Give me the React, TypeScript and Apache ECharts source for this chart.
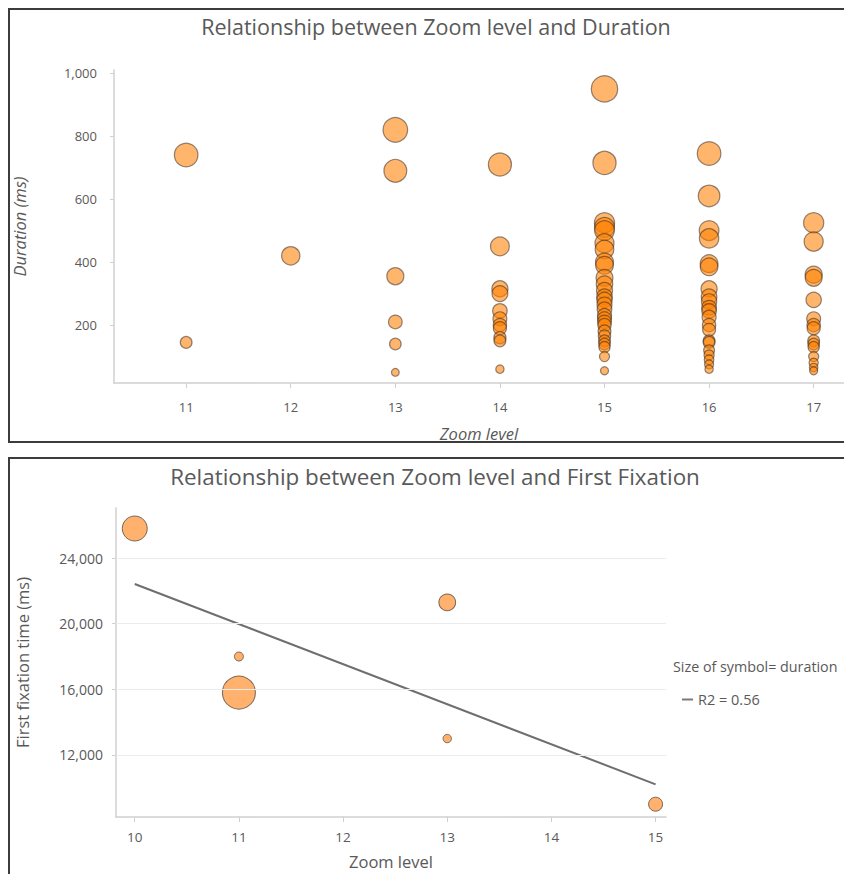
import React, { useEffect, useRef } from "react";
import * as echarts from "echarts";

// ---------- Top chart data ----------
const topTitle = "Relationship between Zoom level and Duration";
const topXName = "Zoom level";
const topYName = "Duration (ms)";
const topZoomTicks = [11, 12, 13, 14, 15, 16, 17];
const topDurationTicks = [200, 400, 600, 800, 1000];
const durZoom11 = [740, 145];
const durZoom12 = [420];
const durZoom13 = [820, 690, 355, 210, 140, 50];
const durZoom14 = [710, 450, 315, 300, 245, 220, 200, 190, 160, 150, 60];
const durZoom15 = [950, 715, 525, 510, 500, 460, 440, 400, 390, 350, 330, 310, 290, 280, 265, 250, 230, 220, 210, 200, 180, 165, 150, 140, 130, 100, 55];
const durZoom16 = [745, 610, 500, 475, 395, 385, 315, 290, 275, 255, 245, 225, 200, 185, 150, 145, 120, 105, 90, 75, 60];
const durZoom17 = [525, 465, 360, 350, 280, 220, 200, 190, 150, 140, 130, 100, 80, 65, 55];

// ---------- Bottom chart data ----------
const bottomTitle = "Relationship between Zoom level and First Fixation";
const bottomXName = "Zoom level";
const bottomYName = "First fixation time (ms)";
const ffZoom = [10, 11, 11, 13, 13, 15];
const ffTime = [25800, 18000, 15800, 21300, 13000, 9000];
const ffDuration = [625, 80, 1090, 280, 70, 196];
const ffTicksX = [10, 11, 12, 13, 14, 15];
const ffTicksY = [12000, 16000, 20000, 24000];
const trendZoom = [10, 15];
const trendTime = [22420, 10210];
const r2Label = "R2 = 0.56";
const sizeNote = "Size of symbol= duration";

const FONT = "'Open Sans', 'Noto Sans', sans-serif";
const TXT = "#595959";
const fmt = (v: number) => v.toLocaleString("en-US");

export default function App() {
  const ref = useRef<HTMLDivElement>(null);
  useEffect(() => {
    if (!ref.current) return;
    const chart = echarts.init(ref.current, null, { renderer: "svg" });

    const topCols: [number, number[]][] = [
      [11, durZoom11], [12, durZoom12], [13, durZoom13], [14, durZoom14],
      [15, durZoom15], [16, durZoom16], [17, durZoom17],
    ];
    const topData: number[][] = [];
    topCols.forEach(([z, arr]) => arr.forEach((d) => topData.push([z, d])));
    const ffData = ffZoom.map((z, i) => [z, ffTime[i], ffDuration[i]]);
    const trendData = trendZoom.map((z, i) => [z, trendTime[i]]);

    const axisLineStyle = { lineStyle: { color: "#d0d0d0", width: 1.5 } };

    chart.setOption({
      animation: false,
      textStyle: { fontFamily: FONT },
      title: [
        { text: topTitle, left: 431, top: 10, textAlign: "center",
          textStyle: { fontFamily: FONT, fontSize: 21.5, fontWeight: "normal", color: TXT } },
        { text: bottomTitle, left: 430, top: 460, textAlign: "center",
          textStyle: { fontFamily: FONT, fontSize: 22.4, fontWeight: "normal", color: TXT } },
      ],
      legend: {
        data: [{ name: r2Label }],
        left: 677, top: 687, itemWidth: 11, itemHeight: 2, itemGap: 5,
        icon: "rect",
        textStyle: { fontFamily: FONT, fontSize: 14.5, color: TXT },
      },
      grid: [
        { left: 114, right: 0, top: 70, bottom: 874 - 383, containLabel: false },
        { left: 116, right: 844 - 666, top: 508, bottom: 874 - 817, containLabel: false },
      ],
      xAxis: [
        {
          type: "value", gridIndex: 0, min: 10.31, max: 17.29,
          name: topXName, nameLocation: "middle", nameGap: 42,
          nameTextStyle: { fontFamily: FONT, fontSize: 16.5, color: TXT, fontStyle: "italic" },
          axisLine: axisLineStyle,
          axisTick: { show: true, customValues: topZoomTicks, length: 5, lineStyle: { color: "#d0d0d0" } },
          axisLabel: { customValues: topZoomTicks, color: TXT, fontSize: 13, margin: 17, fontFamily: FONT },
          splitLine: { show: false },
        },
        {
          type: "value", gridIndex: 1, min: 9.82, max: 15.1,
          name: bottomXName, nameLocation: "middle", nameGap: 36,
          nameTextStyle: { fontFamily: FONT, fontSize: 16.5, color: TXT },
          axisLine: axisLineStyle,
          axisTick: { show: true, customValues: ffTicksX, length: 5, lineStyle: { color: "#d0d0d0" } },
          axisLabel: { customValues: ffTicksX, color: TXT, fontSize: 13.5, margin: 13, fontFamily: FONT },
          splitLine: { show: false },
        },
      ],
      yAxis: [
        {
          type: "value", gridIndex: 0, min: 16, max: 1010,
          name: topYName, nameLocation: "middle", nameGap: 86, nameRotate: 90,
          nameTextStyle: { fontFamily: FONT, fontSize: 16.5, color: TXT, fontStyle: "italic" },
          axisLine: { show: true, ...axisLineStyle },
          axisTick: { show: true, customValues: topDurationTicks, length: 4, lineStyle: { color: "#d0d0d0" } },
          axisLabel: { customValues: topDurationTicks, color: TXT, fontSize: 13, margin: 17, formatter: fmt, fontFamily: FONT },
          splitLine: { show: false },
        },
        {
          type: "value", gridIndex: 1, min: 8220, max: 27050,
          name: bottomYName, nameLocation: "middle", nameGap: 85, nameRotate: 90,
          nameTextStyle: { fontFamily: FONT, fontSize: 16.5, color: TXT },
          axisLine: { show: true, ...axisLineStyle },
          axisTick: { show: true, customValues: ffTicksY, length: 4, lineStyle: { color: "#d0d0d0" } },
          axisLabel: { customValues: ffTicksY, color: TXT, fontSize: 14, margin: 13, formatter: fmt, fontFamily: FONT },
          splitLine: { show: false },
        },
      ],
      series: [
        {
          type: "scatter", name: "grid", xAxisIndex: 1, yAxisIndex: 1, data: [], silent: true, z: 0,
          markLine: {
            silent: true, symbol: "none", animation: false,
            label: { show: false },
            lineStyle: { color: "#ececec", width: 1, type: "solid" },
            data: ffTicksY.map((v) => ({ yAxis: v })),
          },
        },
        {
          type: "scatter", name: "Duration", xAxisIndex: 0, yAxisIndex: 0, data: topData, z: 3,
          symbolSize: (v: number[]) => 0.78 * Math.sqrt(v[1]) + 2.3,
          itemStyle: { color: "rgba(255,128,0,0.72)", borderColor: "rgba(50,35,25,0.65)", borderWidth: 1.2 },
        },
        {
          type: "line", name: r2Label, xAxisIndex: 1, yAxisIndex: 1, data: trendData, z: 2,
          showSymbol: false, symbol: "none",
          lineStyle: { color: "#6e6e6e", width: 2 }, itemStyle: { color: "#7a7a7a" },
        },
        {
          type: "scatter", name: "First fixation", xAxisIndex: 1, yAxisIndex: 1, data: ffData, z: 3,
          symbolSize: (v: number[]) => Math.sqrt(v[2]),
          itemStyle: { color: "#ff9e48", borderColor: "#5a4a3c", borderWidth: 1 },
        },
      ],
      graphic: [
        { type: "rect", shape: { x: 9, y: 9, width: 900, height: 433 },
          style: { fill: "none", stroke: "#3c3c3c", lineWidth: 2 }, z: 10 },
        { type: "rect", shape: { x: 9, y: 458, width: 900, height: 500 },
          style: { fill: "none", stroke: "#3c3c3c", lineWidth: 2 }, z: 10 },
        { type: "text", x: 673, y: 659,
          style: { text: sizeNote, fill: TXT, fontSize: 14.3, fontFamily: FONT } },
      ],
    });
    return () => chart.dispose();
  }, []);
  return (
    <div
      ref={ref}
      style={{ position: "fixed", left: 0, top: 0, width: 844, height: 874, background: "#fff" }}
    />
  );
}
